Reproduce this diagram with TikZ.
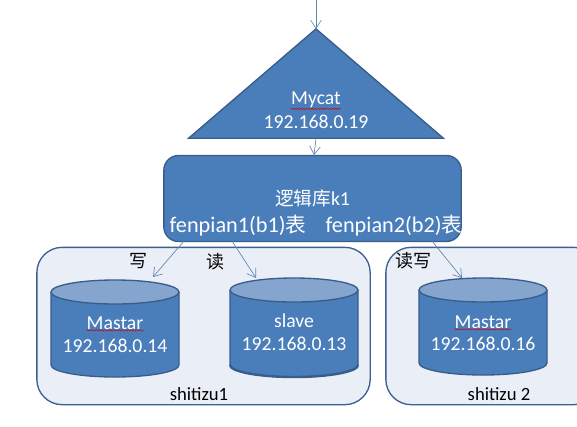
\documentclass[tikz,border=0pt]{standalone}
\usepackage{fontspec}
\setmainfont{Carlito}
\newfontfamily\cjk{Noto Sans CJK SC}
\usetikzlibrary{arrows.meta,positioning,shapes.geometric,decorations.pathmorphing}
\definecolor{dbblue}{HTML}{4A7EBB}
\definecolor{dbedge}{HTML}{385D8A}
\definecolor{dbtop}{HTML}{85A5CF}
\definecolor{groupfill}{HTML}{EAEFF7}
\definecolor{groupedge}{HTML}{3F5F92}
\definecolor{linkblue}{HTML}{5F86B3}
\tikzset{
  link/.style={draw=linkblue,-{Straight Barb[length=6pt,width=8pt]},line width=0.5pt},
  group/.style={draw=groupedge,fill=groupfill,line width=1pt,rounded corners=19pt,minimum height=118pt,inner sep=0pt},
  dbedgeline/.style={draw=dbedge,line width=1pt},
  wtext/.style={text=white,font=\fontsize{14.8}{17}\selectfont,inner sep=0pt},
  ktext/.style={text=black,font=\fontsize{14}{16}\selectfont,inner sep=0pt},
  ctext/.style={text=black,font=\cjk\fontsize{13.5}{16}\selectfont,inner sep=0pt},
  squiggle/.style={draw=red!80!black,line width=0.35pt,decorate,decoration={snake,amplitude=0.5pt,segment length=2.2pt}}
}
\begin{document}
\begin{tikzpicture}[x=0.75pt,y=-0.75pt]
    \clip (0,0) rectangle (577,426);
    \node[group,minimum width=250pt] (group1) at (203.5,326) {};
    \node[group,minimum width=160pt] (group2) at (492.5,326) {};
    \node[isosceles triangle,isosceles triangle apex angle=99,shape border rotate=90,draw=dbedge,fill=dbblue,line width=1pt,
      isosceles triangle stretches,minimum width=191pt,minimum height=82pt,inner sep=0pt,outer sep=0pt] (mycat) at (316,91) {};
    \node[draw=dbedge,fill=dbblue,line width=1pt,rounded corners=11pt,minimum width=223pt,minimum height=64.5pt,inner sep=0pt] (k1) at (312.5,198.5) {};
    \foreach \cx/\ty/\by in {115/292/365,294/290/365,483/290/363} {
      \draw[dbedgeline,fill=dbblue] (\cx-64,\ty) -- (\cx-64,\by) arc[start angle=180,end angle=0,x radius=64,y radius=12] -- (\cx+64,\ty);
      \draw[dbedgeline,fill=dbtop] (\cx,\ty) ellipse[x radius=64,y radius=12];
    }
    \draw[dbedge,line width=1.8pt] (230,365) arc[start angle=180,end angle=0,x radius=64,y radius=12];

    \node[wtext] (mycatname) at (316,100) {Mycat};
    \node[wtext] (mycatip) at (316,122) {192.168.0.19};
    \node[wtext] (k1name) at (312.5,198) {{\cjk\fontsize{14}{16}\selectfont 逻辑库}k1};
    \node[wtext,font=\fontsize{16.7}{19}\selectfont] (k1b1) at (238,225.5) {fenpian1(b1){\cjk\fontsize{15.5}{19}\selectfont 表}};
    \node[wtext,font=\fontsize{16.7}{19}\selectfont] (k1b2) at (394,225.5) {fenpian2(b2){\cjk\fontsize{15.5}{19}\selectfont 表}};
    \node[wtext] (db14name) at (115,323) {Mastar};
    \node[wtext] (db14ip) at (115,346) {192.168.0.14};
    \node[wtext] (db13name) at (294,321) {slave};
    \node[wtext] (db13ip) at (294,344) {192.168.0.13};
    \node[wtext] (db16name) at (483,322) {Mastar};
    \node[wtext] (db16ip) at (483,344) {192.168.0.16};
    \node[ctext] (write1) at (138,261) {写};
    \node[ctext] (read1) at (215,262) {读};
    \node[ctext] (rw2) at (413,261) {读写};
    \node[ktext] (group1name) at (199,394) {shitizu1};
    \node[ktext] (group2name) at (499,394) {shitizu 2};

    \foreach \t in {mycatname,db14name,db16name}
      \draw[squiggle] ([yshift=-0.5pt]\t.south west) -- ([yshift=-0.5pt]\t.south east);

    \coordinate (entry) at (316,0);
    \coordinate (k1top) at (314,155);
    \coordinate (out1) at (184,241);
    \coordinate (out2) at (232,241);
    \coordinate (out3) at (432,241);
    \coordinate (in14) at (153,277);
    \coordinate (in13) at (256,278);
    \coordinate (in16) at (462,278);
    \draw[link] (entry) -- (mycat.apex);
    \draw[link] (mycat.south) -- (k1top);
    \draw[link] (out1) -- (in14);
    \draw[link] (out2) -- (in13);
    \draw[link] (out3) -- (in16);
  \end{tikzpicture}
\end{document}
